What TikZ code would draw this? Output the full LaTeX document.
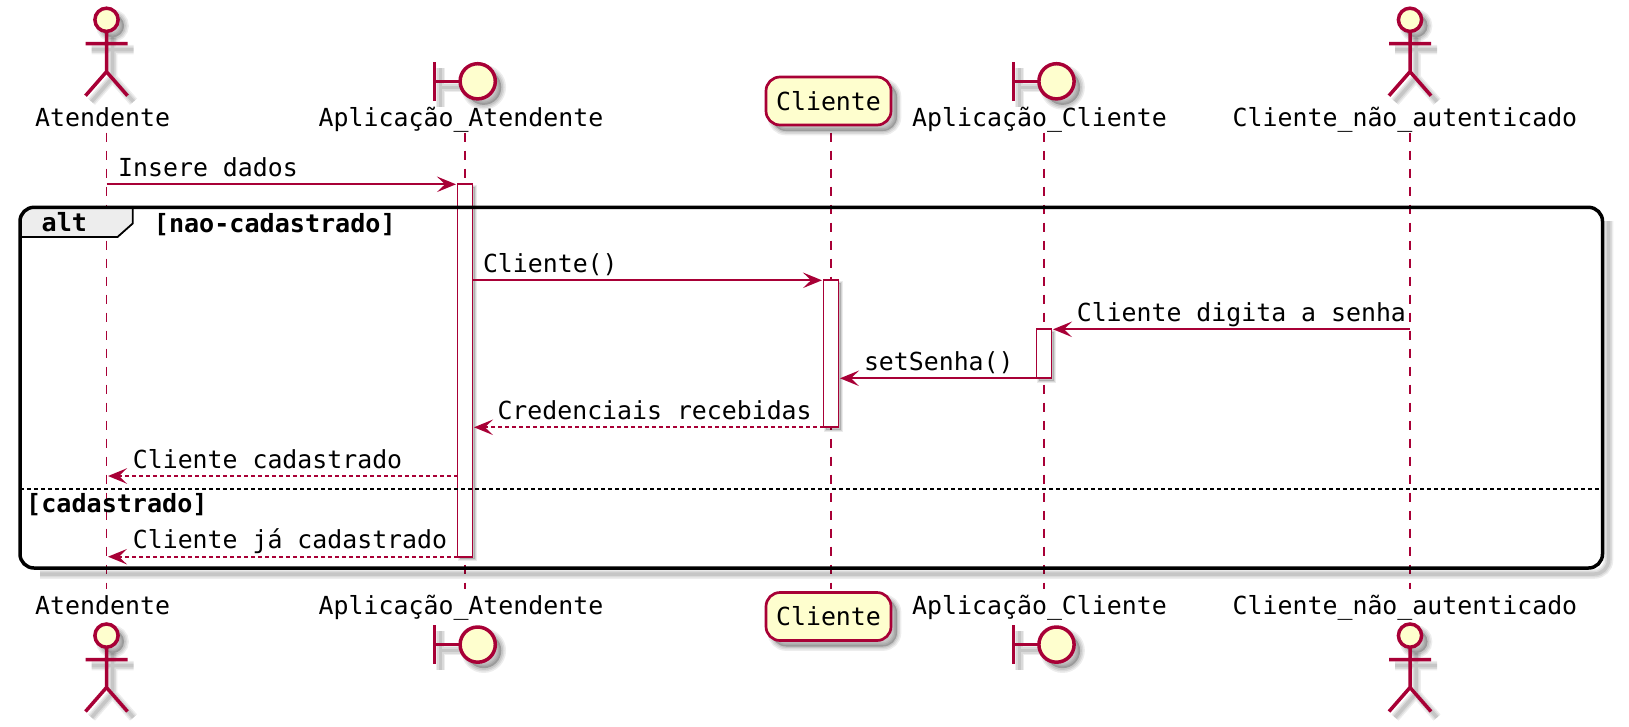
\documentclass[tikz,border=0pt]{standalone}
\usepackage{fontspec}
\usetikzlibrary{arrows.meta}
\newfontfamily\umlfont{DejaVu Sans Mono}
\definecolor{umlred}{HTML}{A80036}
\definecolor{umlfill}{HTML}{FEFECE}
\tikzset{
  softline/.style={
    preaction={draw=black,opacity=.07,line width=#1+6,transform canvas={xshift=6pt,yshift=-6pt}},
    preaction={draw=black,opacity=.08,line width=#1+3,transform canvas={xshift=6pt,yshift=-6pt}},
    preaction={draw=black,opacity=.09,line width=#1,transform canvas={xshift=6pt,yshift=-6pt}}},
  softfill/.style={
    preaction={draw=black,fill=black,opacity=.07,line width=#1+6,transform canvas={xshift=6pt,yshift=-6pt}},
    preaction={draw=black,fill=black,opacity=.08,line width=#1+3,transform canvas={xshift=6pt,yshift=-6pt}},
    preaction={draw=black,fill=black,opacity=.09,line width=#1,transform canvas={xshift=6pt,yshift=-6pt}}},
  softbar/.style={
    preaction={draw=black,fill=black,opacity=.08,line width=3.5,transform canvas={xshift=2.5pt,yshift=-2.5pt}},
    preaction={draw=black,fill=black,opacity=.1,line width=1.5,transform canvas={xshift=2.5pt,yshift=-2.5pt}}},
  actorfig/.pic={
    \draw[umlred,line width=3.5,softfill=3.5,fill=umlfill] (0,13.1) circle (11.6);
    \draw[umlred,line width=3.5,softline=3.5] (0,24.7) -- (0,65) (-21,37) -- (21,37) (-21,89) -- (0,65) -- (21,89);
  },
  boundaryfig/.pic={
    \draw[umlred,line width=3.5,softline=3.5] (-43,0) -- (-43,38.7) (-43,19.3) -- (-17.6,19.3);
    \draw[umlred,line width=3.5,softfill=3.5,fill=umlfill] (0,19.3) circle (17.6);
  },
  partname/.style={anchor=base west,font=\umlfont\fontsize{24.88}{30}\selectfont,inner sep=0},
  msglabel/.style={anchor=base west,font=\umlfont\fontsize{24.85}{30}\selectfont,inner sep=0},
  condlabel/.style={anchor=base west,font=\umlfont\bfseries\fontsize{25.1}{30}\selectfont,inner sep=0},
  partbox/.style={rectangle,rounded corners=14,draw=umlred,fill=umlfill,line width=2.7,softfill=2.7,minimum width=125,minimum height=48,inner sep=0,outer sep=0,font=\umlfont\fontsize{24.88}{30}\selectfont},
  lifeline/.style={umlred,line width=1.8,dash pattern=on 9pt off 9pt},
  actbar/.style={rectangle,draw=umlred,fill=white,line width=1.9,softbar,minimum width=15,inner sep=0,outer sep=0},
  msg/.style={umlred,line width=1.8,-{Stealth[length=19pt,width=15.5pt,inset=8pt]},shorten >=1.5pt},
  msgback/.style={msg,dash pattern=on 3.5pt off 3.5pt},
}
\begin{document}
\begin{tikzpicture}[x=1pt,y=-1pt]
    \useasboundingbox (0,0) rectangle (1629,726);
    % lifelines
    \foreach \lname/\lx in {atendente/106.5,appAtendente/465,cliente/831,appCliente/1044,naoAutenticado/1410}{
      \coordinate (\lname Top) at (\lx,132.7);
      \coordinate (\lname Bot) at (\lx,589);
      \draw[lifeline] (\lname Top) -- (\lname Bot);
    }
    % activations
    \node[actbar,minimum height=372.4] (barApp) at (465,370.5) {};
    \node[actbar,minimum height=147] (barCliente) at (831,353.8) {};
    \node[actbar,minimum height=49] (barAppCliente) at (1044,353.8) {};
    % participants
    \pic at (106.5,6.7) {actorfig};
    \pic at (477.7,62) {boundaryfig};
    \pic at (1056.5,62) {boundaryfig};
    \pic at (1410,6.7) {actorfig};
    \node[partbox] (clienteTopBox) at (828.5,101) {Cliente};
    \node[partname] (atendenteName) at (35,126.7) {Atendente};
    \node[partname] (appAtendenteName) at (318.5,126.7) {Aplicação\_Atendente};
    \node[partname] (appClienteName) at (912,126.7) {Aplicação\_Cliente};
    \node[partname] (naoAutenticadoName) at (1232.5,126.7) {Cliente\_não\_autenticado};
    % messages
    \coordinate (msgInsere) at (106.5,184.3);
    \coordinate (msgCadastrado) at (457.5,476);
    \draw[msg] (msgInsere) -- (barApp.north west);
    \node[msglabel] (lblInsere) at (118,176) {Insere dados};
    \draw[msg] (barApp.east |- barCliente.north) -- (barCliente.north west);
    \node[msglabel] (lblCliente) at (482.8,272) {Cliente()};
    \draw[msg] (naoAutenticadoTop |- barAppCliente.north) -- (barAppCliente.north east);
    \node[msglabel] (lblDigita) at (1076.6,321.5) {Cliente digita a senha};
    \draw[msg] (barAppCliente.south west) -- (barCliente.east |- barAppCliente.south);
    \node[msglabel] (lblSenha) at (863.8,370.5) {setSenha()};
    \draw[msgback] (barCliente.south west) -- (barApp.east |- barCliente.south);
    \node[msglabel] (lblCredenciais) at (497.3,419.2) {Credenciais recebidas};
    \draw[msgback] (msgCadastrado) -- (atendenteTop |- msgCadastrado);
    \node[msglabel] (lblCadastrado) at (132.7,468.5) {Cliente cadastrado};
    \draw[msgback] (barApp.south west) -- (atendenteTop |- barApp.south);
    \node[msglabel] (lblJa) at (132.7,548) {Cliente já cadastrado};
    % alt frame
    \coordinate (frameNW) at (20,207.3);
    \coordinate (frameSE) at (1602.5,568);
    \coordinate (shadeA) at (1602.5,215);
    \coordinate (shadeB) at (34,568);
    \coordinate (tabA) at (132.7,207.3);
    \coordinate (tabB) at (132.7,223.5);
    \coordinate (tabC) at (117.5,237);
    \coordinate (tabD) at (20,237);
    \path[rounded corners=14,softline=3.5] (shadeA) -- (frameSE) -- (shadeB);
    \draw[black,line width=1.8,fill=black!7] (tabD) -- (tabC) -- (tabB) -- (tabA) -- (34,207.3) arc (270:180:14) -- cycle;
    \draw[black,line width=3.5,rounded corners=14] (frameNW) rectangle (frameSE);
    \coordinate (divW) at (20,489.3);
    \draw[black,line width=1.8,dash pattern=on 3.5pt off 3.5pt] (divW) -- (frameSE |- divW);
    \node[condlabel] (altLabel) at (41.5,231) {alt};
    \node[condlabel] (altCond) at (153.7,232.3) {[nao-cadastrado]};
    \node[condlabel] (elseCond) at (26,512) {[cadastrado]};
    % bottom participants
    \node[partname] (atendenteFootName) at (35,614) {Atendente};
    \node[partname] (appAtendenteFootName) at (318.5,614) {Aplicação\_Atendente};
    \node[partname] (appClienteFootName) at (912,614) {Aplicação\_Cliente};
    \node[partname] (naoAutenticadoFootName) at (1232.5,614) {Cliente\_não\_autenticado};
    \node[partbox] (clienteFootBox) at (828.5,616.5) {Cliente};
    \pic at (106.5,622.5) {actorfig};
    \pic at (477.7,625.3) {boundaryfig};
    \pic at (1056.5,625.3) {boundaryfig};
    \pic at (1410,622.5) {actorfig};
\end{tikzpicture}
\end{document}
